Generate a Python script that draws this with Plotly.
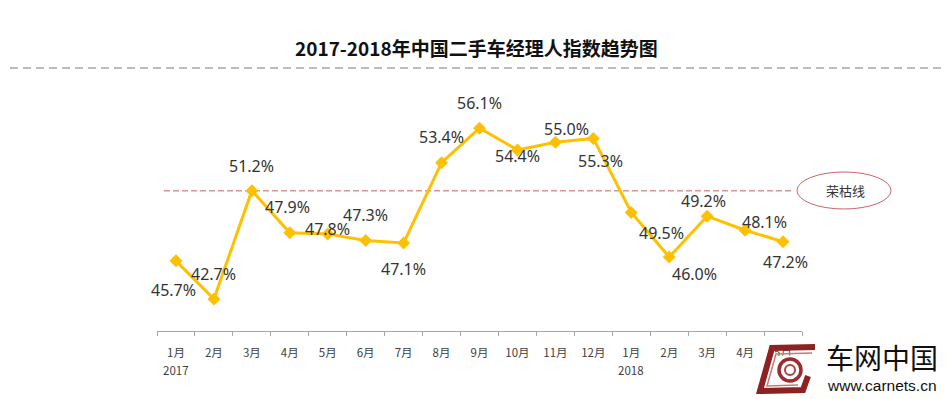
import plotly.graph_objects as go

# ---- data ----
months = ["1月", "2月", "3月", "4月", "5月", "6月", "7月", "8月", "9月", "10月", "11月", "12月",
          "1月", "2月", "3月", "4月", "5月"]
years = ["2017", "", "", "", "", "", "", "", "", "", "", "", "2018", "", "", "", ""]
index_values = [45.7, 42.7, 51.2, 47.9, 47.8, 47.3, 47.1, 53.4, 56.1, 54.4, 55.0, 55.3,
                49.5, 46.0, 49.2, 48.1, 47.2]
threshold_value = 51.2
threshold_label = "荣枯线"
title_text = "2017-2018年中国二手车经理人指数趋势图"

# ---- styling ----
W, H = 952, 399
ML, MR, MT, MB = 157, 150, 81, 68
PW, PH = W - ML - MR, H - MT - MB

def px(xp):
    return (xp - ML) / PW

def py(yp):
    return (H - MB - yp) / PH

# label offsets in screen pixels (dx, dy) — style only
label_offsets = [(-2, 29), (0, -25), (0, -25), (-2, -26), (0, -5), (0, -25), (0, 26),
                 (0, -26), (0, -25), (0, 6), (11, -13), (7, 23), (30, 21), (25, 17),
                 (-4, -15), (19, -8), (2, 20)]

idx = list(range(len(months)))
n = len(months)

fig = go.Figure()
fig.add_trace(go.Scatter(
    x=idx, y=index_values, mode="lines+markers",
    line=dict(color="#FFC000", width=3),
    marker=dict(symbol="diamond", size=10, color="#FFC000"),
    hoverinfo="skip", showlegend=False,
))
# invisible trace to activate the boundary-tick axis
fig.add_trace(go.Scatter(x=[0], y=[index_values[0]], xaxis="x2", mode="markers",
                         marker=dict(opacity=0), hoverinfo="skip", showlegend=False))

annotations = []
for i, (v, (dx, dy)) in enumerate(zip(index_values, label_offsets)):
    annotations.append(dict(
        x=i, y=v, xref="x", yref="y", text=f"{v:.1f}%", showarrow=False,
        xshift=dx, yshift=-dy,
        font=dict(family="Noto Sans, Open Sans, sans-serif", size=16, color="#333333"),
    ))

tick_font = dict(family="Noto Sans CJK SC", size=11.5, color="#404040")
for i, yr in enumerate(years):
    if yr:
        annotations.append(dict(x=i, y=py(370), xref="x", yref="paper", text=yr, showarrow=False,
                                xanchor="center", yanchor="middle", font=tick_font))

# title
annotations.append(dict(
    x=px(476), y=py(47), xref="paper", yref="paper", text="<b>" + title_text + "</b>",
    showarrow=False, xanchor="center", yanchor="middle",
    font=dict(family="Noto Sans CJK SC", size=19, color="#111111"),
))
# threshold label
annotations.append(dict(
    x=px(845), y=py(190), xref="paper", yref="paper", text=threshold_label,
    showarrow=False, xanchor="center", yanchor="middle",
    font=dict(family="Noto Sans CJK SC", size=13, color="#333333"),
))

shapes = [
    dict(type="line", xref="paper", yref="paper", x0=px(10), x1=px(945), y0=py(68), y1=py(68),
         line=dict(color="#A6A6A6", width=1.5, dash="8px,5px")),
    dict(type="line", xref="paper", yref="y", x0=px(164), x1=px(792),
         y0=threshold_value, y1=threshold_value, layer="below",
         line=dict(color="#D99594", width=1.6, dash="6px,3px")),
    dict(type="circle", xref="paper", yref="paper", x0=px(797), x1=px(891), y0=py(209), y1=py(172),
         line=dict(color="#C8666A", width=1), fillcolor="rgba(0,0,0,0)", layer="above"),
]

def pathp(points):
    return "M " + " L ".join(f"{px(a)},{py(b)}" for a, b in points)

# rough logo mark drawn over the last month label, as in the original
shapes.append(dict(type="path", xref="paper", yref="paper",
                   path=pathp([(758, 395), (769, 356), (818, 355), (818, 395)]) + " Z",
                   fillcolor="white", line=dict(width=0), layer="above"))
shapes.append(dict(type="path", xref="paper", yref="paper",
                   path=pathp([(815, 347), (772, 348), (760, 391), (803, 390), (808, 376)]),
                   line=dict(color="#8E2222", width=6), layer="above"))
shapes.append(dict(type="path", xref="paper", yref="paper",
                   path=pathp([(812, 353), (776, 354), (767, 386), (798, 385)]),
                   line=dict(color="#C97A76", width=1.5), layer="above"))
shapes.append(dict(type="circle", xref="paper", yref="paper", x0=px(779), x1=px(801),
                   y0=py(381), y1=py(359), line=dict(color="#9A2D2D", width=3.5), layer="above"))
shapes.append(dict(type="circle", xref="paper", yref="paper", x0=px(785), x1=px(795),
                   y0=py(375), y1=py(365), line=dict(color="#B04040", width=2), layer="above"))

annotations.append(dict(
    x=px(882), y=py(357), xref="paper", yref="paper", text="车网中国",
    showarrow=False, xanchor="center", yanchor="middle",
    font=dict(family="Noto Sans CJK SC", size=28, color="#111111"),
))
annotations.append(dict(
    x=px(882), y=py(385), xref="paper", yref="paper", text="www.carnets.cn",
    showarrow=False, xanchor="center", yanchor="middle",
    font=dict(family="Liberation Sans, Arial, sans-serif", size=15.5, color="#111111"),
))

fig.update_layout(
    width=W, height=H,
    margin=dict(l=ML, r=MR, t=MT, b=MB),
    paper_bgcolor="white", plot_bgcolor="white",
    annotations=annotations, shapes=shapes,
    xaxis=dict(
        range=[-0.5, n - 0.5],
        tickmode="array", tickvals=idx, ticktext=months,
        tickfont=tick_font, ticks="", ticklabelstandoff=11,
        showgrid=False, zeroline=False,
        showline=True, linecolor="#A6A6A6", linewidth=1,
    ),
    xaxis2=dict(
        overlaying="x", anchor="y", side="bottom", range=[-0.5, n - 0.5],
        tickmode="array", tickvals=[i - 0.5 for i in range(n + 1)], ticktext=[""] * (n + 1),
        ticks="outside", ticklen=4, tickcolor="#A6A6A6", tickwidth=1,
        showgrid=False, zeroline=False, showline=False,
    ),
    yaxis=dict(range=[40.2, 59.8], visible=False),
)

fig.write_html("out.html", config={"displayModeBar": False},
               post_script="document.body.style.margin='0';document.body.style.padding='0';")
